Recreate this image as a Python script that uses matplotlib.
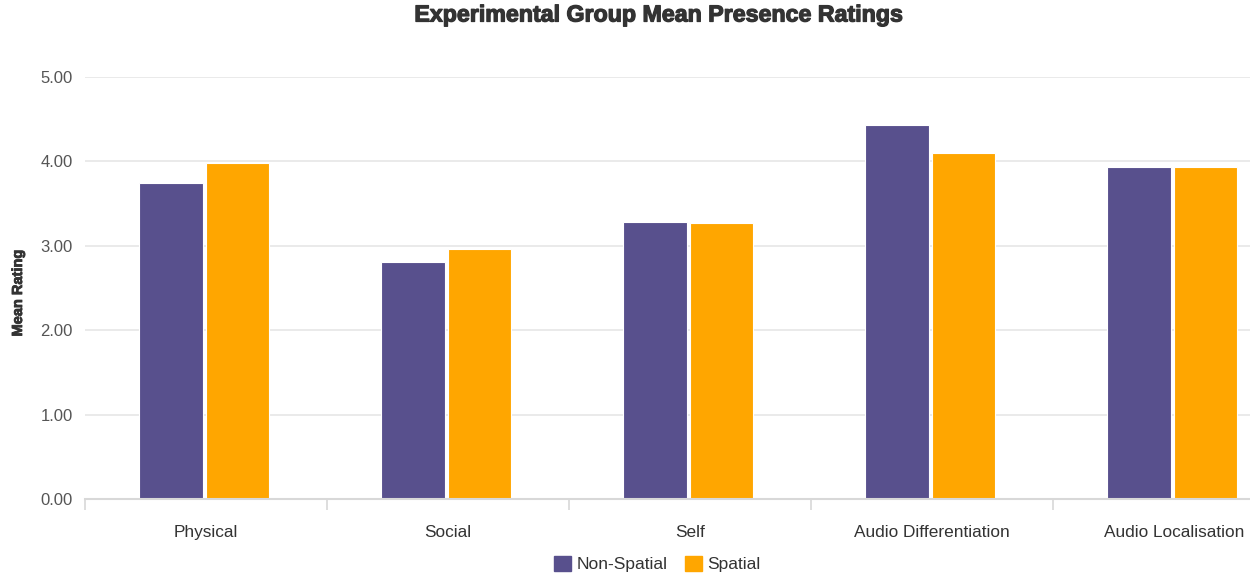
import matplotlib
matplotlib.use("Agg")
import matplotlib.pyplot as plt
import matplotlib.patheffects as pe
import numpy as np
from matplotlib.patches import Patch

categories = ["Physical", "Social", "Self", "Audio Differentiation", "Audio Localisation"]
non_spatial = [3.75, 2.81, 3.28, 4.43, 3.93]
spatial = [3.98, 2.96, 3.27, 4.10, 3.93]
series_names = ["Non-Spatial", "Spatial"]
yticks = [0, 1, 2, 3, 4, 5]

plt.rcParams['font.family'] = ['Liberation Sans', 'DejaVu Sans']

W, H = 1250, 577
fig = plt.figure(figsize=(W / 100, H / 100), dpi=100)
left, right = 85 / W, 1295 / W
bottom, top = 1 - 499 / H, 1 - 77 / H
ax = fig.add_axes([left, bottom, right - left, top - bottom])

x = np.arange(len(categories))
bw = 0.262
off = 0.137
shift = -0.007
c_ns, c_s = "#58508d", "#ffa600"
ax.bar(x - off + shift, non_spatial, bw, color=c_ns, edgecolor="white", linewidth=0.8, zorder=3)
ax.bar(x + off + shift, spatial, bw, color=c_s, edgecolor="white", linewidth=0.8, zorder=3)

ax.set_xlim(-0.5, len(categories) - 0.5)
ax.set_ylim(0, 5)
ax.set_yticks(yticks)
ax.set_yticklabels([f"{v:.2f}" for v in yticks])
ax.yaxis.grid(True, color="#e6e6e6", linewidth=1.2, zorder=0)
ax.set_axisbelow(True)
for s in ["top", "right", "left"]:
    ax.spines[s].set_visible(False)
ax.spines["bottom"].set_color("#d8d8d8")
ax.spines["bottom"].set_linewidth(1.5)
ax.spines["bottom"].set_zorder(4)

ax.set_xticks(x)
ax.set_xticklabels(categories)
ax.set_xticks(np.arange(-0.5, len(categories) + 0.5, 1), minor=True)
ax.tick_params(axis="x", which="major", length=0, pad=19, labelsize=12.4, labelcolor="#333333")
ax.tick_params(axis="x", which="minor", length=8, width=1.2, color="#d8d8d8", direction="out")
ax.tick_params(axis="y", length=0, pad=9, labelsize=12, labelcolor="#555555")

stroke = [pe.withStroke(linewidth=0.9, foreground="#333333")]
fig.text(657 / W, 1 - 15 / H, "Experimental Group Mean Presence Ratings", ha="center", va="center",
         fontsize=16.7, fontweight="bold", color="#333333", path_effects=stroke)
fig.text(18 / W, 1 - 293 / H, "Mean Rating", rotation=90, ha="center", va="center",
         fontsize=10.5, fontweight="bold", color="#333333",
         path_effects=[pe.withStroke(linewidth=0.6, foreground="#333333")])

handles = [Patch(facecolor=c_ns, edgecolor=c_ns, label=series_names[0]),
           Patch(facecolor=c_s, edgecolor=c_s, label=series_names[1])]
fig.legend(handles=handles, loc="center", bbox_to_anchor=(657 / W, 1 - 564 / H), ncol=2,
           frameon=False, fontsize=12.5, handlelength=1.0, handleheight=1.0, handletextpad=0.3,
           columnspacing=1.0, labelcolor="#333333")

fig.savefig("out.png", dpi=100)
